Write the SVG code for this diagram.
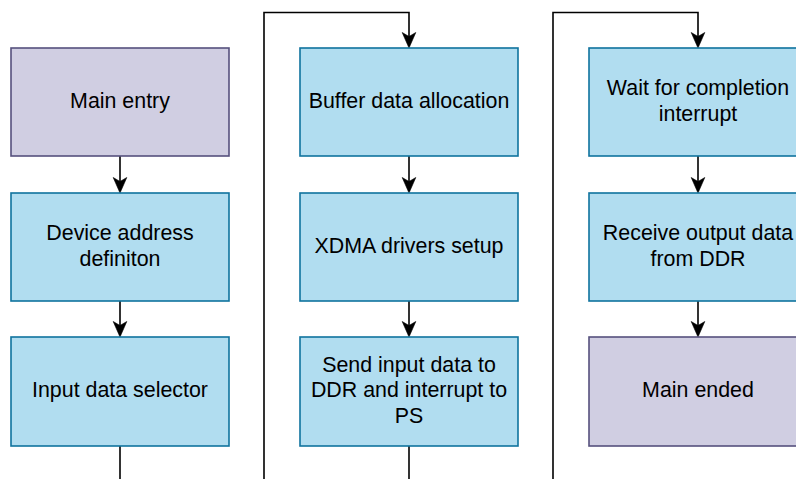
<svg xmlns="http://www.w3.org/2000/svg" xmlns:xlink="http://www.w3.org/1999/xlink" width="796" height="479" viewBox="0 0 796 479">
  <style>
    .box rect { stroke-width: 1.6; }
    .term rect { fill: #d0cee2; stroke: #56517e; }
    .step rect { fill: #b1ddf0; stroke: #10739e; }
    text { font-family: "Liberation Sans", Arial, Helvetica, sans-serif; font-size: 21.4px; fill: #000; text-anchor: middle; }
    .wire { fill: none; stroke: #000; stroke-width: 1.6; }
    .head { fill: #000; stroke: #000; stroke-width: 0.6; stroke-linejoin: miter; }
  </style>
  <defs>
    <!-- downward classic arrowhead, tip at the origin -->
    <path id="head" class="head" d="M0,0 L-6.8,-15.5 L0,-11.5 L6.8,-15.5 Z"/>
  </defs>
  <rect width="796" height="479" fill="#fff"/>

  <!-- connectors -->
  <g id="connectors">
    <path class="wire" d="M120,156 V182"/>
    <use xlink:href="#head" href="#head" x="120" y="193"/>
    <path class="wire" d="M120,301 V326"/>
    <use xlink:href="#head" href="#head" x="120" y="337"/>
    <path class="wire" d="M120,446 V479"/>
    <path class="wire" d="M264,479 V12.5 H409 V37"/>
    <use xlink:href="#head" href="#head" x="409" y="48"/>
    <path class="wire" d="M409,156 V182"/>
    <use xlink:href="#head" href="#head" x="409" y="193"/>
    <path class="wire" d="M409,301 V326"/>
    <use xlink:href="#head" href="#head" x="409" y="337"/>
    <path class="wire" d="M409,446 V479"/>
    <path class="wire" d="M553,479 V12.5 H698 V37"/>
    <use xlink:href="#head" href="#head" x="698" y="48"/>
    <path class="wire" d="M698,156 V182"/>
    <use xlink:href="#head" href="#head" x="698" y="193"/>
    <path class="wire" d="M698,301 V326"/>
    <use xlink:href="#head" href="#head" x="698" y="337"/>
  </g>

  <!-- column 1 -->
  <g id="main-entry" class="box term">
    <rect x="11" y="48" width="218" height="108"/>
    <text x="120" y="107.7">Main entry</text>
  </g>
  <g id="device-address" class="box step">
    <rect x="11" y="193" width="218" height="108"/>
    <text x="120" y="240">Device address</text>
    <text x="120" y="265.6">definiton</text>
  </g>
  <g id="input-selector" class="box step">
    <rect x="11" y="337" width="218" height="109"/>
    <text x="120" y="397">Input data selector</text>
  </g>

  <!-- column 2 -->
  <g id="buffer-allocation" class="box step">
    <rect x="300" y="48" width="218" height="108"/>
    <text x="409" y="107.7">Buffer data allocation</text>
  </g>
  <g id="xdma-setup" class="box step">
    <rect x="300" y="193" width="218" height="108"/>
    <text x="409" y="252.7">XDMA drivers setup</text>
  </g>
  <g id="send-input" class="box step">
    <rect x="300" y="337" width="218" height="109"/>
    <text x="409" y="371.7">Send input data to</text>
    <text x="409" y="397.2">DDR and interrupt to</text>
    <text x="409" y="422.7">PS</text>
  </g>

  <!-- column 3 -->
  <g id="wait-completion" class="box step">
    <rect x="589" y="48" width="218" height="108"/>
    <text x="698" y="95">Wait for completion</text>
    <text x="698" y="120.6">interrupt</text>
  </g>
  <g id="receive-output" class="box step">
    <rect x="589" y="193" width="218" height="108"/>
    <text x="698" y="240">Receive output data</text>
    <text x="698" y="265.6">from DDR</text>
  </g>
  <g id="main-ended" class="box term">
    <rect x="589" y="337" width="218" height="109"/>
    <text x="698" y="397">Main ended</text>
  </g>
</svg>
